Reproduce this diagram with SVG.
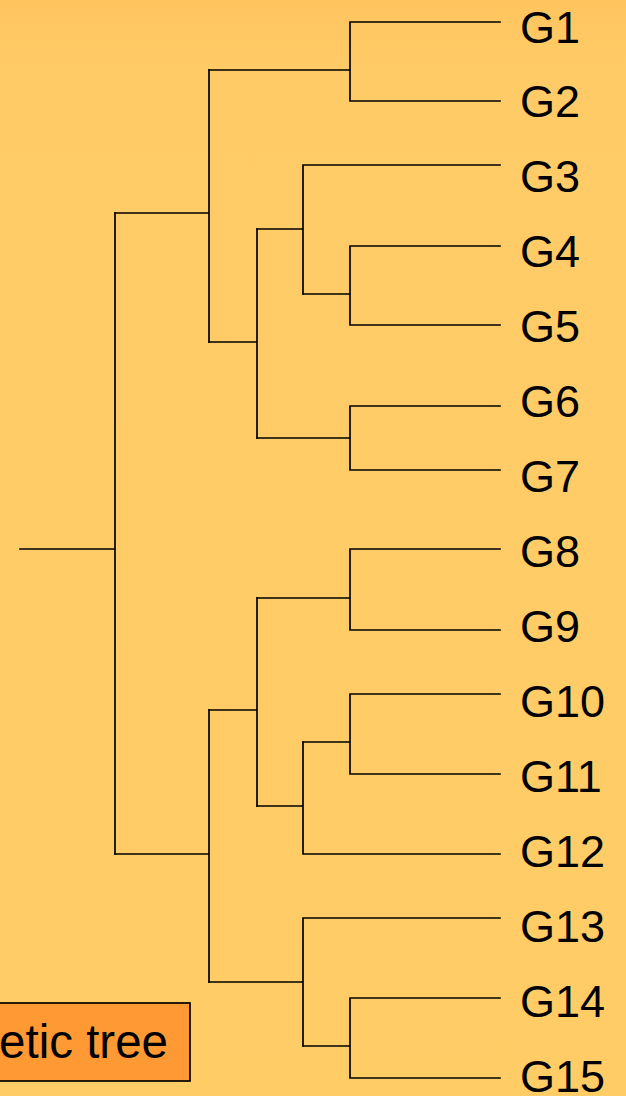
<svg xmlns="http://www.w3.org/2000/svg" width="626" height="1096" viewBox="0 0 626 1096">
  <defs>
    <linearGradient id="bg" x1="0" y1="0" x2="0" y2="1096" gradientUnits="userSpaceOnUse">
      <stop offset="0" stop-color="#FFC45E"/>
      <stop offset="0.06" stop-color="#FFCB66"/>
      <stop offset="1" stop-color="#FFCC66"/>
    </linearGradient>
    <style>
      .br { fill: none; stroke: #000; stroke-width: 1.7; stroke-linecap: square; }
      .lbl { font-family: "Liberation Sans", Arial, sans-serif; font-size: 45px; fill: #000; }
      .title { font-family: "Liberation Sans", Arial, sans-serif; font-size: 47.5px; fill: #000; }
    </style>
  </defs>
  <rect x="0" y="0" width="626" height="1096" fill="url(#bg)"/>

  <g id="connectors" class="br">
    <!-- root -->
    <path d="M20,549 H115 M115,213 V854"/>
    <!-- top clade A -->
    <path d="M115,213 H209 M209,70 V342"/>
    <path d="M209,70 H350 M350,22 V101 M350,22 H500 M350,101 H500"/>
    <path d="M209,342 H257 M257,229 V438"/>
    <path d="M257,229 H303 M303,165 V294 M303,165 H500"/>
    <path d="M303,294 H350 M350,246 V325 M350,246 H500 M350,325 H500"/>
    <path d="M257,438 H350 M350,406 V470 M350,406 H500 M350,470 H500"/>
    <!-- bottom clade D -->
    <path d="M115,854 H209 M209,710 V982"/>
    <path d="M209,710 H257 M257,598 V806"/>
    <path d="M257,598 H350 M350,549 V630 M350,549 H500 M350,630 H500"/>
    <path d="M257,806 H303 M303,742 V854 M303,854 H500"/>
    <path d="M303,742 H350 M350,694 V774 M350,694 H500 M350,774 H500"/>
    <path d="M209,982 H303 M303,918 V1046 M303,918 H500"/>
    <path d="M303,1046 H350 M350,998 V1078 M350,998 H500 M350,1078 H500"/>
  </g>

  <g id="G1"><text class="lbl" x="520" y="42.5">G1</text></g>
  <g id="G2"><text class="lbl" x="520" y="117.4">G2</text></g>
  <g id="G3"><text class="lbl" x="520" y="192.4">G3</text></g>
  <g id="G4"><text class="lbl" x="520" y="267.3">G4</text></g>
  <g id="G5"><text class="lbl" x="520" y="342.2">G5</text></g>
  <g id="G6"><text class="lbl" x="520" y="417.2">G6</text></g>
  <g id="G7"><text class="lbl" x="520" y="492.1">G7</text></g>
  <g id="G8"><text class="lbl" x="520" y="567.0">G8</text></g>
  <g id="G9"><text class="lbl" x="520" y="641.9">G9</text></g>
  <g id="G10"><text class="lbl" x="520" y="716.9">G10</text></g>
  <g id="G11"><text class="lbl" x="520" y="791.8">G11</text></g>
  <g id="G12"><text class="lbl" x="520" y="866.7">G12</text></g>
  <g id="G13"><text class="lbl" x="520" y="941.7">G13</text></g>
  <g id="G14"><text class="lbl" x="520" y="1016.6">G14</text></g>
  <g id="G15"><text class="lbl" x="520" y="1091.5">G15</text></g>

  <g id="title">
    <rect x="-3" y="1003" width="193" height="78" fill="#FF9933" stroke="#000" stroke-width="1.7"/>
    <text class="title" x="168" y="1058" text-anchor="end">etic tree</text>
  </g>
</svg>
